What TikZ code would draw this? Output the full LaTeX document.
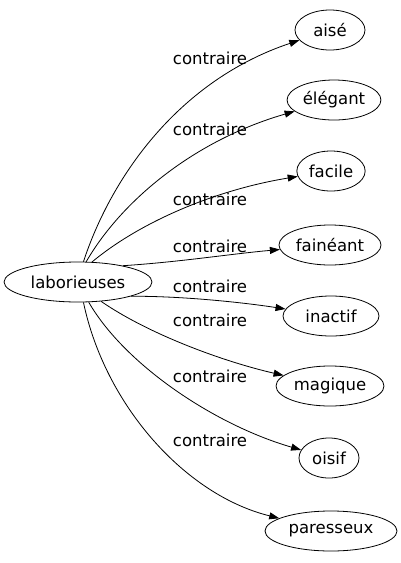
\documentclass[tikz,border=0pt]{standalone}
\usepackage{fontspec}
\setmainfont{DejaVu Sans}
\usetikzlibrary{shapes.geometric,arrows.meta}
\begin{document}
\begin{tikzpicture}[x=1pt,y=-1pt,
  word/.style={ellipse,draw,line width=0.8pt,minimum height=40pt,inner xsep=2pt,font=\fontsize{16.5}{19}\selectfont},
  lbl/.style={font=\fontsize{16.5}{19}\selectfont,inner sep=0pt},
  rel/.style={-{Triangle[length=10pt,width=7pt]},line width=0.8pt}]
\useasboundingbox (0,0) rectangle (401,563);
\node[word,minimum width=148pt] (src) at (78,282) {laborieuses};
\node[word,minimum width=70pt] (a) at (330,30) {aisé};
\node[word,minimum width=82pt] (b) at (334,100) {élégant};
\node[word,minimum width=66pt] (c) at (331,171) {facile};
\node[word,minimum width=92pt] (d) at (330,245) {fainéant};
\node[word,minimum width=96pt] (e) at (331,316) {inactif};
\node[word,minimum width=92pt] (f) at (330,386) {magique};
\node[word,minimum width=60pt] (g) at (329,458) {oisif};
\node[word,minimum width=132pt] (h) at (331,531) {paresseux};
\node[lbl] (la) at (210,58) {contraire};
\node[lbl] (lb) at (210,129) {contraire};
\node[lbl] (lc) at (210,199) {contraire};
\node[lbl] (ld) at (210,246) {contraire};
\node[lbl] (le) at (210,286) {contraire};
\node[lbl] (lf) at (210,320) {contraire};
\node[lbl] (lg) at (210,376) {contraire};
\node[lbl] (lh) at (210,440) {contraire};
\draw[rel] (src.75) .. controls (112,175) and (180,80) .. (a);
\draw[rel] (src.68) .. controls (122,200) and (195,140) .. (b);
\draw[rel] (src.55) .. controls (140,222) and (215,190) .. (c);
\draw[rel] (src.20) .. controls (180,262) and (230,254) .. (d);
\draw[rel] (src.-15) .. controls (180,296) and (240,302) .. (e);
\draw[rel] (src.-40) .. controls (150,335) and (225,362) .. (f);
\draw[rel] (src.-62) .. controls (125,365) and (215,425) .. (g);
\draw[rel] (src.-75) .. controls (105,405) and (185,495) .. (h);
\end{tikzpicture}
\end{document}
